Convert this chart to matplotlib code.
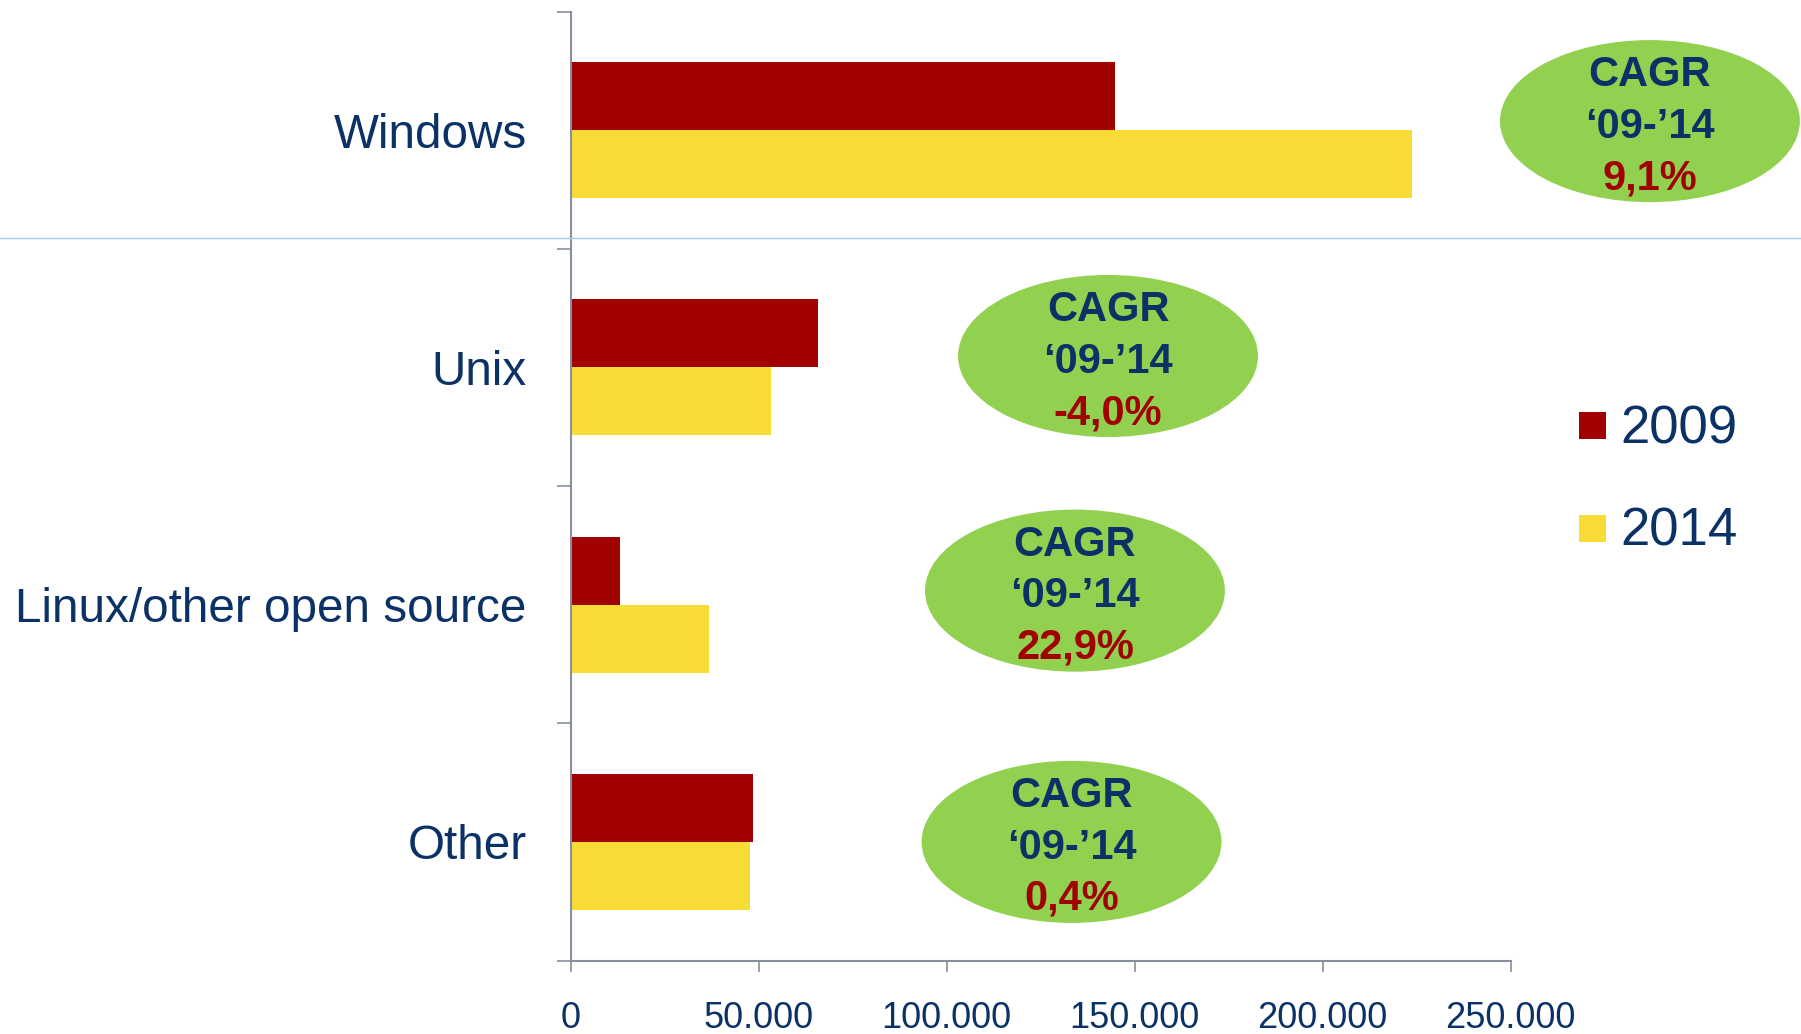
import matplotlib
matplotlib.use("Agg")
import matplotlib.pyplot as plt
from matplotlib.patches import Ellipse, Rectangle
from matplotlib.lines import Line2D
from matplotlib.ticker import FuncFormatter, FixedLocator

plt.rcParams['font.family'] = ['Liberation Sans', 'DejaVu Sans']

# ---- data ----
categories = ["Windows", "Unix", "Linux/other open source", "Other"]
series_names = ["2009", "2014"]
values_2009 = [144800, 65700, 13100, 48400]
values_2014 = [223700, 53200, 36700, 47700]
cagr_labels = ["9,1%", "-4,0%", "22,9%", "0,4%"]
cagr_title = ["CAGR", "\u201809-\u201914"]
x_ticks = [0, 50000, 100000, 150000, 200000, 250000]

# ---- layout / style ----
RED = "#a00000"
YELLOW = "#f7dc36"
GREEN = "#92d050"
NAVY = "#0b3266"
AXIS = "#8a8fa0"
W, H = 1801, 1034

# ellipse centres (data coords) for the CAGR bubbles
ell_x = [287100, 142900, 134100, 133200]
ell_y = [-0.038, 0.952, 1.941, 3.0]
ell_w = 79800
ell_h = 0.683

fig = plt.figure(figsize=(W / 100, H / 100), dpi=100)
ax = fig.add_axes([571 / W, 1 - 960.5 / H, 939.5 / W, 949 / H])
ax.set_facecolor("none")

ypos = list(range(len(categories)))
bh = 0.287
ax.barh([y - bh / 2 for y in ypos], values_2009, height=bh, color=RED, label=series_names[0])
ax.barh([y + bh / 2 for y in ypos], values_2014, height=bh, color=YELLOW, label=series_names[1])

ax.set_xlim(x_ticks[0], x_ticks[-1])
ax.set_ylim(len(categories) - 0.5, -0.5)

for s in ["top", "right"]:
    ax.spines[s].set_visible(False)
for s in ["left", "bottom"]:
    ax.spines[s].set_color(AXIS)
    ax.spines[s].set_linewidth(1.5)

ax.set_xticks(x_ticks)
ax.xaxis.set_major_formatter(FuncFormatter(lambda v, p: f"{int(v):,}".replace(",", ".")))
ax.tick_params(axis="x", direction="out", length=8, width=1.2, color=AXIS,
               labelsize=26, labelcolor=NAVY, pad=21)

ax.set_yticks(ypos)
ax.set_yticklabels(categories)
ax.yaxis.set_minor_locator(FixedLocator([y - 0.5 for y in ypos] + [ypos[-1] + 0.5]))
ax.tick_params(axis="y", which="major", length=0, labelsize=34.3, labelcolor=NAVY, pad=32)
ax.tick_params(axis="y", which="minor", direction="out", length=10, width=1.2, color=AXIS)

# CAGR bubbles
for i in range(len(categories)):
    e = Ellipse((ell_x[i], ell_y[i]), ell_w, ell_h, facecolor=GREEN, edgecolor="none",
                clip_on=False, zorder=3)
    ax.add_patch(e)
    lines = [(cagr_title[0], NAVY, 25.0), (cagr_title[1], NAVY, -12.0), (cagr_labels[i], RED, -49.0)]
    for txt, col, dy in lines:
        ax.annotate(txt, xy=(ell_x[i], ell_y[i]), xytext=(0, dy), textcoords="offset points",
                    ha="center", va="baseline", fontsize=30, fontweight="bold", color=col,
                    annotation_clip=False, zorder=4)

# separator line across the figure
fig.add_artist(Line2D([0, 1], [1 - 238 / H, 1 - 238 / H], transform=fig.transFigure,
                      color="#a6cbf0", linewidth=1.0, zorder=5))

# legend (manual)
for i, (name, col) in enumerate(zip(series_names, [RED, YELLOW])):
    top = 412 + 103 * i
    fig.patches.append(Rectangle((1579 / W, 1 - (top + 27) / H), 27 / W, 27 / H,
                                 transform=fig.transFigure, facecolor=col, edgecolor="none"))
    fig.text(1620 / W, 1 - (443 + 103 * i) / H, name, va="baseline", ha="left",
             fontsize=38, color=NAVY)

fig.savefig("out.png", dpi=100, facecolor="white")
